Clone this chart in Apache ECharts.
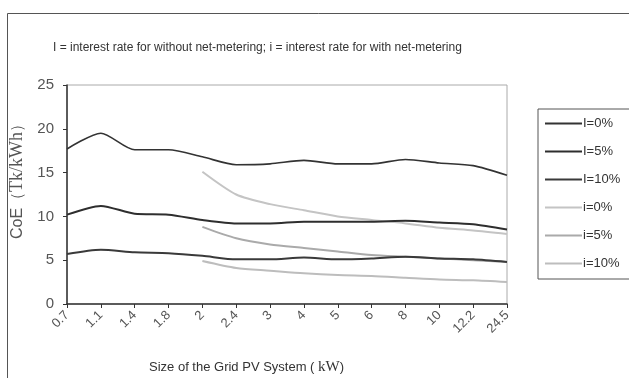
<!DOCTYPE html>
<html><head><meta charset="utf-8">
<script src="https://cdn.jsdelivr.net/npm/echarts@6/dist/echarts.min.js"></script>
<style>html,body{margin:0;padding:0;background:#fff}#c{width:629px;height:378px}</style>
</head><body><div id="c"></div>
<script>
const categories = ['0.7','1.1','1.4','1.8','2','2.4','3','4','5','6','8','10','12.2','24.5'];
const seriesNames = ['I=0%','I=5%','I=10%','i=0%','i=5%','i=10%'];
const I0  = [17.7,19.5,17.6,17.6,16.8,15.9,16.0,16.4,16.0,16.0,16.5,16.1,15.8,14.7];
const I5  = [10.2,11.2,10.3,10.2,9.6,9.2,9.2,9.4,9.4,9.4,9.5,9.3,9.1,8.5];
const I10 = [5.7,6.2,5.9,5.8,5.5,5.1,5.1,5.3,5.1,5.2,5.4,5.2,5.1,4.8];
const i0  = [null,null,null,null,15.1,12.5,11.4,10.7,10.0,9.6,9.2,8.7,8.4,8.0];
const i5  = [null,null,null,null,8.8,7.5,6.8,6.4,6.0,5.6,5.4,5.2,5.0,4.8];
const i10 = [null,null,null,null,4.9,4.1,3.8,3.5,3.3,3.2,3.0,2.8,2.7,2.5];

const chart = echarts.init(document.getElementById('c'), null, {renderer:'canvas'});
function mk(name, data, color, width, z){
  return {name, type:'line', data, symbol:'none', smooth:0.25, connectNulls:false,
    lineStyle:{color, width}, itemStyle:{color}, z};
}
chart.setOption({
  animation:false,
  backgroundColor:'#fff',
  title:[
    {text:'I = interest rate for without net-metering; i = interest rate for with net-metering',
     left:48, top:37, textStyle:{fontFamily:'Liberation Sans', fontSize:12, fontWeight:'normal', color:'#333'}},
    {text:'{a|Size of the Grid PV System ( }{b|kW}{a|)}', left:144, top:355,
     textStyle:{fontWeight:'normal', rich:{a:{fontFamily:'Liberation Sans', fontSize:13, fontWeight:'normal', color:'#333'}, b:{fontFamily:'Liberation Serif', fontSize:15, fontWeight:'normal', color:'#333'}}}}
  ],
  graphic:[{type:'rect', shape:{x:7.5,y:13.5,width:700,height:400}, style:{fill:'none', stroke:'#555', lineWidth:1}, silent:true}],
  grid:{left:67, right:122, top:85, bottom:74, show:true, borderColor:'#aaa', borderWidth:1},
  legend:{
    orient:'vertical', left:538, top:109, data:seriesNames,
    itemWidth:37, itemHeight:14, itemGap:15,
    padding:[8,20,9,6], borderColor:'#555', borderWidth:1,
    itemStyle:{opacity:0},
    textStyle:{fontFamily:'Liberation Sans', fontSize:13, color:'#333', padding:[0,0,0,-4]}
  },
  xAxis:{
    type:'category', data:categories, boundaryGap:false,
    axisLine:{lineStyle:{color:'#333', width:1.5}},
    axisTick:{show:true, length:4, lineStyle:{color:'#333'}},
    axisLabel:{rotate:45, interval:0, fontFamily:'Liberation Sans', fontSize:13, color:'#555', margin:9},
    splitLine:{show:false}
  },
  yAxis:{
    type:'value', min:0, max:25, interval:5,
    name:'{a|CoE（}{b|Tk/kWh}{a|）}', nameLocation:'middle', nameGap:30,
    nameTextStyle:{padding:[0,0,0,34], rich:{a:{fontFamily:'Liberation Sans', fontSize:16, color:'#555'}, b:{fontFamily:'Liberation Serif', fontSize:18, color:'#555'}}},
    axisLine:{show:true, lineStyle:{color:'#333', width:1.5}},
    axisTick:{show:true, length:4, lineStyle:{color:'#333'}},
    axisLabel:{fontFamily:'Liberation Sans', fontSize:15, color:'#555', margin:13},
    splitLine:{show:false}
  },
  series:[
    mk(seriesNames[0], I0, '#333', 1.6, 3),
    mk(seriesNames[1], I5, '#2e2e2e', 2, 3),
    mk(seriesNames[2], I10, '#3a3a3a', 2, 3),
    mk(seriesNames[3], i0, '#c4c4c4', 2, 2),
    mk(seriesNames[4], i5, '#aaaaaa', 2, 2),
    mk(seriesNames[5], i10, '#bdbdbd', 2, 2)
  ]
});
</script></body></html>
